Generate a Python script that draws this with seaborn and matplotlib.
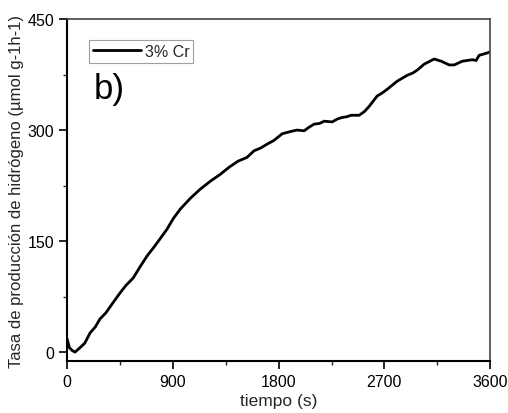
import matplotlib
matplotlib.use("Agg")
import matplotlib.pyplot as plt
import seaborn as sns
import pandas as pd
from matplotlib.ticker import MultipleLocator

tiempo = [0, 20, 45, 68, 110, 150, 196, 240, 281, 330, 383, 451, 500, 562, 620, 681, 740, 791,
          850, 902, 962, 1050, 1132, 1220, 1302, 1380, 1455, 1530, 1591, 1650, 1702, 1760, 1830,
          1900, 1957, 2017, 2060, 2102, 2150, 2187, 2255, 2300, 2340, 2380, 2417, 2485, 2530,
          2570, 2638, 2680, 2723, 2808, 2894, 2940, 2979, 3038, 3123, 3183, 3251, 3294, 3362,
          3447, 3480, 3506, 3550, 3591, 3600]
tasa = [18, 6, 2, 0, 6, 12, 26, 34, 45, 53, 65, 80, 90, 100, 115, 130, 142, 153,
        166, 180, 193, 208, 220, 231, 240, 250, 258, 263, 272, 276, 281, 286, 295,
        298, 300, 299, 304, 308, 309, 312, 311, 315, 317, 318, 320, 320, 325,
        332, 346, 350, 355, 366, 374, 377, 381, 389, 396, 393, 388, 388, 393,
        395, 394, 401, 403, 405, 406]
serie = "3% Cr"

df = pd.DataFrame({"tiempo": tiempo, "tasa": tasa, "serie": serie})

sns.set_theme(style="white")
plt.rcParams["font.family"] = ["Liberation Sans", "DejaVu Sans"]

fig = plt.figure(figsize=(5.08, 4.14), dpi=100)
ax = fig.add_axes([0.132, 0.1256, 0.833, 0.826])
sns.lineplot(data=df, x="tiempo", y="tasa", hue="serie", palette=["black"],
             linewidth=2, ax=ax, legend=True)

ax.set_xlim(0, 3600)
ax.set_ylim(-12, 450)
ax.xaxis.set_major_locator(MultipleLocator(900))
ax.xaxis.set_minor_locator(MultipleLocator(450))
ax.yaxis.set_major_locator(MultipleLocator(150))
ax.yaxis.set_minor_locator(MultipleLocator(75))
ax.tick_params(axis="both", which="major", direction="out", length=6, width=1.2,
               labelsize=11.5, colors="black", bottom=True, left=True, top=False, right=False,
               pad=3)
ax.tick_params(axis="both", which="minor", direction="out", length=3, width=1,
               bottom=True, left=True, top=False, right=False)

for s in ["left", "bottom"]:
    ax.spines[s].set_color("black")
    ax.spines[s].set_linewidth(1.5)
for s in ["top", "right"]:
    ax.spines[s].set_color("#444444")
    ax.spines[s].set_linewidth(1.2)

ax.set_xlabel("tiempo (s)", fontsize=12.5, labelpad=3)
ax.set_ylabel("Tasa de producción de hidrógeno (µmol g-1h-1)", fontsize=12, labelpad=3)

leg = ax.legend(loc="upper left", bbox_to_anchor=(0.053, 0.94), fontsize=11.5,
                frameon=True, fancybox=False, handlelength=3.0, handletextpad=0.2,
                borderpad=0.25, borderaxespad=0)
leg.get_frame().set_edgecolor("#888888")
leg.get_frame().set_linewidth(0.8)

ax.text(0.062, 0.77, "b)", transform=ax.transAxes, fontsize=25, color="black")

fig.savefig("out.png", dpi=100)
